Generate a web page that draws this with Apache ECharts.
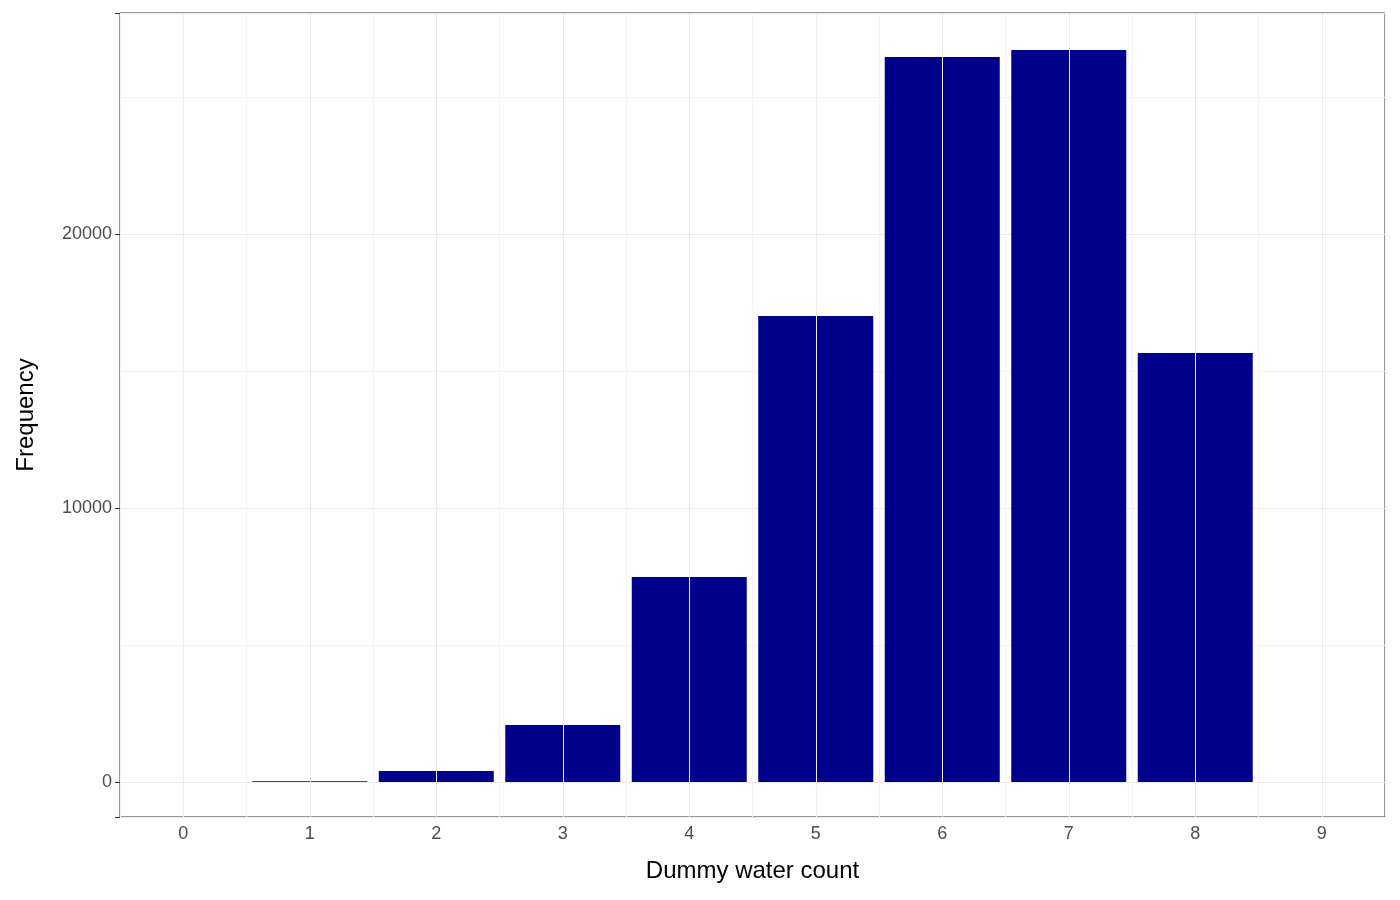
<!DOCTYPE html>
<html><head><meta charset="utf-8">
<script src="https://cdn.jsdelivr.net/npm/echarts@6/dist/echarts.min.js"></script>
<style>html,body{margin:0;background:#fff}#c{width:1400px;height:900px}</style>
</head><body><div id="c"></div>
<script>
// counts
const categories = ['0', '1', '2', '3', '4', '5', '6', '7', '8', '9']
const frequency = [0, 30, 400, 2080, 7480, 17010, 26460, 26720, 15660, 0]
const yTicks = [0, 10000, 20000]

const chart = echarts.init(document.getElementById('c'))
const font = 'Liberation Sans, Arial, sans-serif'

chart.setOption({
  animation: false,
  grid: { left: 120, right: 15, top: 13, bottom: 83, show: true, borderColor: '#333', borderWidth: 1 },
  xAxis: {
    type: 'category',
    data: categories,
    name: 'Dummy water count',
    nameLocation: 'middle',
    nameGap: 42,
    nameTextStyle: { color: '#000', fontSize: 24, fontFamily: font },
    axisLine: { show: false },
    axisTick: { alignWithLabel: true, length: 5, lineStyle: { color: '#333' } },
    axisLabel: { color: '#4d4d4d', fontSize: 18, fontFamily: font, margin: 8 },
    splitLine: { show: true, lineStyle: { color: '#f4f4f4', width: 1 } }
  },
  yAxis: {
    type: 'value',
    min: -1277,
    max: 28066,
    splitNumber: 3,
    name: 'Frequency',
    nameLocation: 'middle',
    nameGap: 82,
    nameTextStyle: { color: '#000', fontSize: 24, fontFamily: font },
    axisLine: { show: false },
    axisTick: { show: true, length: 5, lineStyle: { color: '#333' } },
    axisLabel: {
      color: '#4d4d4d', fontSize: 18, fontFamily: font, margin: 8,
      formatter: v => yTicks.includes(v) ? String(v) : ''
    },
    splitLine: { lineStyle: { color: '#ebebeb', width: 1 } },
    minorTick: { show: false, splitNumber: 2 },
    minorSplitLine: { show: true, lineStyle: { color: '#f4f4f4', width: 1 } }
  },
  series: [{
    type: 'bar',
    data: frequency,
    barWidth: 115,
    itemStyle: { color: '#00008B' },
    markLine: {
      silent: true,
      symbol: 'none',
      label: { show: false },
      lineStyle: { color: '#ebebeb', type: 'solid', width: 1 },
      data: categories.map(c => ({ xAxis: c }))
    },
    z: 3
  }]
})
</script></body></html>
